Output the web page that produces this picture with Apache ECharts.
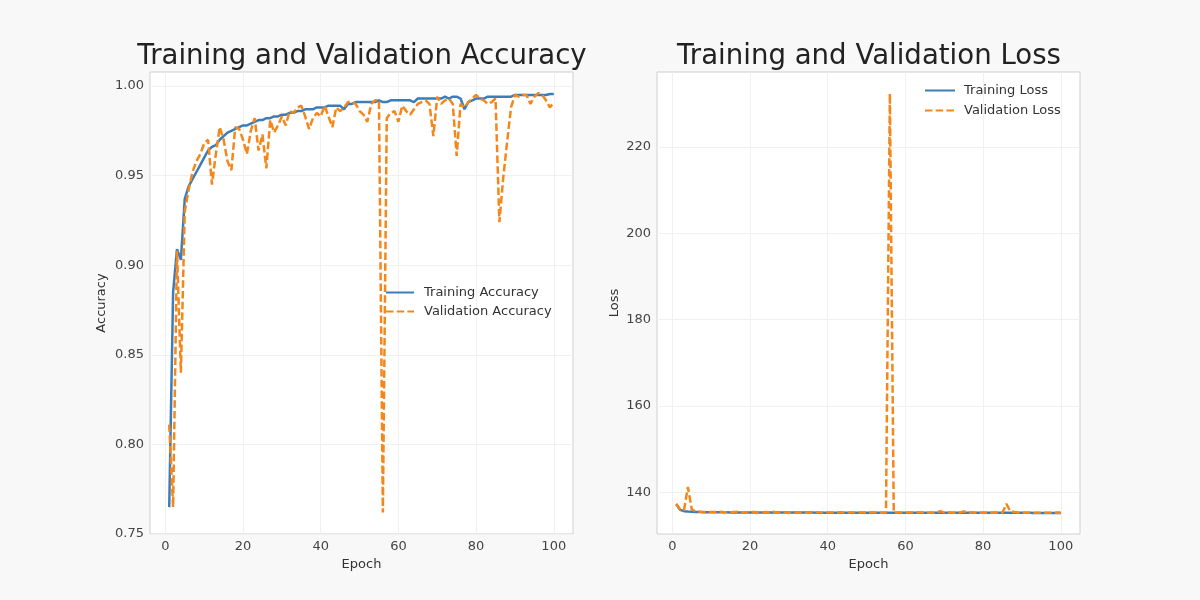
<!DOCTYPE html>
<html>
<head>
<meta charset="utf-8">
<script src="https://cdn.jsdelivr.net/npm/echarts@6/dist/echarts.min.js"></script>
<style>
  html, body { margin: 0; padding: 0; background: #f8f8f8; }
  #main { width: 1200px; height: 600px; }
</style>
</head>
<body>
<div id="main"></div>
<script>
// values, one per epoch (1..100)
const trainAcc = [
  0.765, 0.885, 0.909, 0.903, 0.937, 0.944, 0.948, 0.952, 0.956, 0.960,
  0.964, 0.966, 0.967, 0.970, 0.972, 0.974, 0.975, 0.976, 0.977, 0.978,
  0.978, 0.979, 0.980, 0.981, 0.981, 0.982, 0.982, 0.983, 0.983, 0.984,
  0.984, 0.985, 0.985, 0.986, 0.986, 0.987, 0.987, 0.987, 0.988, 0.988,
  0.988, 0.989, 0.989, 0.989, 0.989, 0.987, 0.990, 0.990, 0.991, 0.991,
  0.991, 0.991, 0.991, 0.991, 0.992, 0.991, 0.991, 0.992, 0.992, 0.992,
  0.992, 0.992, 0.992, 0.991, 0.993, 0.993, 0.993, 0.993, 0.993, 0.993,
  0.993, 0.994, 0.993, 0.994, 0.994, 0.993, 0.987, 0.991, 0.992, 0.993,
  0.993, 0.993, 0.994, 0.994, 0.994, 0.994, 0.994, 0.994, 0.994, 0.995,
  0.995, 0.995, 0.995, 0.995, 0.995, 0.995, 0.995, 0.995, 0.9955, 0.9955
];
const valAcc = [
  0.811, 0.765, 0.908, 0.840, 0.930, 0.942, 0.952, 0.958, 0.962, 0.968,
  0.970, 0.945, 0.962, 0.977, 0.970, 0.958, 0.953, 0.977, 0.976, 0.970,
  0.962, 0.975, 0.982, 0.964, 0.973, 0.954, 0.981, 0.974, 0.978, 0.983,
  0.978, 0.986, 0.985, 0.988, 0.989, 0.983, 0.976, 0.982, 0.985, 0.983,
  0.989, 0.983, 0.977, 0.988, 0.986, 0.988, 0.991, 0.991, 0.990, 0.986,
  0.984, 0.980, 0.990, 0.992, 0.992, 0.762, 0.982, 0.985, 0.986, 0.980,
  0.989, 0.986, 0.984, 0.987, 0.990, 0.991, 0.992, 0.990, 0.972, 0.994,
  0.990, 0.992, 0.993, 0.990, 0.961, 0.990, 0.988, 0.991, 0.993, 0.995,
  0.993, 0.992, 0.990, 0.991, 0.993, 0.924, 0.949, 0.969, 0.988, 0.995,
  0.994, 0.995, 0.995, 0.990, 0.994, 0.996, 0.995, 0.992, 0.988, 0.991
];
const trainLoss = [
  137.2, 135.9, 135.6, 135.5, 135.45, 135.4, 135.38, 135.36, 135.35, 135.34,
  135.33, 135.33, 135.32, 135.32, 135.31, 135.31, 135.3, 135.3, 135.3, 135.3,
  135.29, 135.29, 135.29, 135.28, 135.28, 135.28, 135.28, 135.27, 135.27, 135.27,
  135.27, 135.26, 135.26, 135.26, 135.26, 135.26, 135.25, 135.25, 135.25, 135.25,
  135.25, 135.25, 135.24, 135.24, 135.24, 135.25, 135.24, 135.24, 135.24, 135.23,
  135.23, 135.23, 135.23, 135.23, 135.23, 135.23, 135.23, 135.22, 135.22, 135.22,
  135.22, 135.22, 135.22, 135.23, 135.22, 135.22, 135.21, 135.21, 135.21, 135.21,
  135.21, 135.21, 135.21, 135.21, 135.21, 135.21, 135.23, 135.22, 135.21, 135.21,
  135.2, 135.2, 135.2, 135.2, 135.2, 135.2, 135.2, 135.2, 135.2, 135.2,
  135.2, 135.2, 135.19, 135.19, 135.19, 135.19, 135.19, 135.19, 135.18, 135.18
];
const valLoss = [
  137.3, 136.0, 135.8, 141.2, 136.0, 135.5, 135.45, 135.4, 135.4, 135.38,
  135.38, 135.5, 135.4, 135.33, 135.36, 135.42, 135.44, 135.33, 135.33, 135.36,
  135.4, 135.34, 135.3, 135.4, 135.35, 135.44, 135.3, 135.34, 135.32, 135.3,
  135.32, 135.28, 135.29, 135.27, 135.27, 135.3, 135.34, 135.3, 135.28, 135.3,
  135.27, 135.3, 135.33, 135.27, 135.28, 135.27, 135.26, 135.26, 135.26, 135.28,
  135.29, 135.31, 135.26, 135.25, 135.25, 232.4, 135.31, 135.29, 135.28, 135.31,
  135.26, 135.28, 135.29, 135.27, 135.26, 135.25, 135.25, 135.26, 135.6, 135.24,
  135.26, 135.25, 135.24, 135.26, 135.55, 135.26, 135.27, 135.25, 135.24, 135.23,
  135.24, 135.25, 135.26, 135.25, 135.24, 137.3, 135.6, 135.4, 135.27, 135.23,
  135.23, 135.22, 135.22, 135.25, 135.23, 135.22, 135.22, 135.24, 135.26, 135.24
];
const epochTicks = [0, 20, 40, 60, 80, 100];
const accTicks = [0.75, 0.80, 0.85, 0.90, 0.95, 1.00];
const lossTicks = [140, 160, 180, 200, 220];

const blue = '#3a7dba';
const orange = '#f5861a';
const font = 'DejaVu Sans';

function pairs(arr) {
  return arr.map((v, i) => [i + 1, v]);
}

function xAxisFor(gridIndex) {
  return {
    type: 'value', gridIndex: gridIndex,
    min: -3.95, max: 104.95,
    name: 'Epoch', nameLocation: 'middle', nameGap: 24,
    nameTextStyle: { fontFamily: font, fontSize: 13, color: '#333' },
    axisLine: { show: false },
    axisTick: { show: false, customValues: epochTicks },
    axisLabel: { customValues: epochTicks, fontFamily: font, fontSize: 13, color: '#444', margin: 6 },
    splitLine: { show: true, lineStyle: { color: '#f0f0f0', width: 1 } }
  };
}

function yAxisFor(gridIndex, name, min, max, ticks, fmt, gap) {
  return {
    type: 'value', gridIndex: gridIndex,
    min: min, max: max,
    name: name, nameLocation: 'middle', nameGap: gap,
    nameTextStyle: { fontFamily: font, fontSize: 13, color: '#333' },
    axisLine: { show: false },
    axisTick: { show: false, customValues: ticks },
    axisLabel: { customValues: ticks, formatter: fmt, fontFamily: font, fontSize: 13, color: '#444', margin: 6 },
    splitLine: { show: true, lineStyle: { color: '#f0f0f0', width: 1 } }
  };
}

function lineSeries(name, data, xi, yi, color, dashed) {
  return {
    name: name, type: 'line', xAxisIndex: xi, yAxisIndex: yi,
    data: pairs(data), symbol: 'none', smooth: false,
    lineStyle: { color: color, width: 2.5, type: dashed ? [7.5, 3.2] : 'solid' },
    itemStyle: { color: color },
    emphasis: { disabled: true }
  };
}

const chart = echarts.init(document.getElementById('main'));
chart.setOption({
  backgroundColor: '#f8f8f8',
  animation: false,
  title: [
    { text: 'Training and Validation Accuracy', left: 357, top: 38, textAlign: 'center',
      textStyle: { fontFamily: font, fontSize: 27.6, fontWeight: 'normal', color: '#222' } },
    { text: 'Training and Validation Loss', left: 864, top: 38, textAlign: 'center',
      textStyle: { fontFamily: font, fontSize: 27.6, fontWeight: 'normal', color: '#222' } }
  ],
  legend: [
    { data: ['Training Accuracy', 'Validation Accuracy'], orient: 'vertical',
      left: 380, top: 281, itemWidth: 28, itemHeight: 14, itemGap: 6,
      itemStyle: { opacity: 0 },
      textStyle: { fontFamily: font, fontSize: 13, color: '#333', padding: [0, 0, 0, 5] } },
    { data: ['Training Loss', 'Validation Loss'], orient: 'vertical',
      left: 919, top: 79, itemWidth: 30, itemHeight: 14, itemGap: 7,
      itemStyle: { opacity: 0 },
      textStyle: { fontFamily: font, fontSize: 13, color: '#333', padding: [0, 0, 0, 4] } }
  ],
  grid: [
    { left: 150, top: 72, width: 423, height: 462, show: true, backgroundColor: '#fff', borderColor: '#cfcfcf', borderWidth: 1 },
    { left: 657, top: 72, width: 423, height: 462, show: true, backgroundColor: '#fff', borderColor: '#cfcfcf', borderWidth: 1 }
  ],
  xAxis: [xAxisFor(0), xAxisFor(1)],
  yAxis: [
    yAxisFor(0, 'Accuracy', 0.75, 1.0078, accTicks, v => v.toFixed(2), 42),
    yAxisFor(1, 'Loss', 130.3, 237.4, lossTicks, v => String(Math.round(v)), 36)
  ],
  series: [
    lineSeries('Training Accuracy', trainAcc, 0, 0, blue, false),
    lineSeries('Validation Accuracy', valAcc, 0, 0, orange, true),
    lineSeries('Training Loss', trainLoss, 1, 1, blue, false),
    lineSeries('Validation Loss', valLoss, 1, 1, orange, true)
  ]
});
</script>
</body>
</html>
